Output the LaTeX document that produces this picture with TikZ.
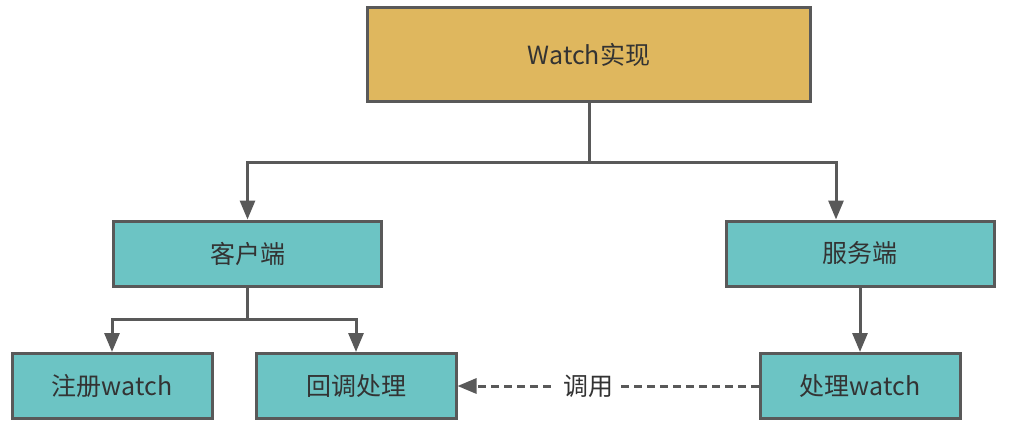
\documentclass[tikz,border=0pt]{standalone}
\usepackage{fontspec}
\setmainfont{Noto Sans CJK SC}
\usetikzlibrary{positioning,arrows.meta}
\definecolor{implgold}{HTML}{DFB75E}
\definecolor{boxteal}{HTML}{6CC4C4}
\definecolor{edgegray}{HTML}{595959}
\definecolor{textgray}{HTML}{333333}

\begin{document}
\begin{tikzpicture}[x=1pt,y=1pt,on grid,
    box/.style={draw=edgegray,line width=3pt,fill=boxteal,inner sep=0pt,
      minimum width=268pt,minimum height=65pt,text=textgray,
      font=\fontsize{25}{30}\selectfont},
    small/.style={box,minimum width=200pt},
    arr/.style={draw=edgegray,line width=3pt,-{Triangle[length=19pt,width=15pt]}}]
   \useasboundingbox (0,0) rectangle (1010,-426);
   \node[box,fill=implgold,minimum width=443pt,minimum height=94pt] (impl) at (589,-54.5) {Watch实现};
   \node[box] (client) [below left=199pt and 341.5pt of impl] {客户端};
   \node[box] (server) [below right=199pt and 271pt of impl] {服务端};
   \node[small] (reg) [below left=132.5pt and 135.5pt of client] {注册watch};
   \node[small] (cb) [below right=132.5pt and 108.5pt of client] {回调处理};
   \node[small] (proc) [below=132.5pt of server] {处理watch};
    \draw[arr] (impl.south) -- ++(0,-59) -| (client.north);
    \draw[arr] (impl.south) -- ++(0,-59) -| ([xshift=-24pt]server.north);
    \draw[arr] (client.south) -- ++(0,-32) -| (reg.north);
    \draw[arr] (client.south) -- ++(0,-32) -| (cb.north);
    \draw[arr] (server) -- (proc);
    \draw[arr,dash pattern=on 8pt off 5pt] (proc) -- (cb)
      node[pos=0.565,fill=white,inner sep=8pt,text=textgray,
        font=\fontsize{25}{30}\selectfont] (call) {调用};
\end{tikzpicture}
\end{document}
